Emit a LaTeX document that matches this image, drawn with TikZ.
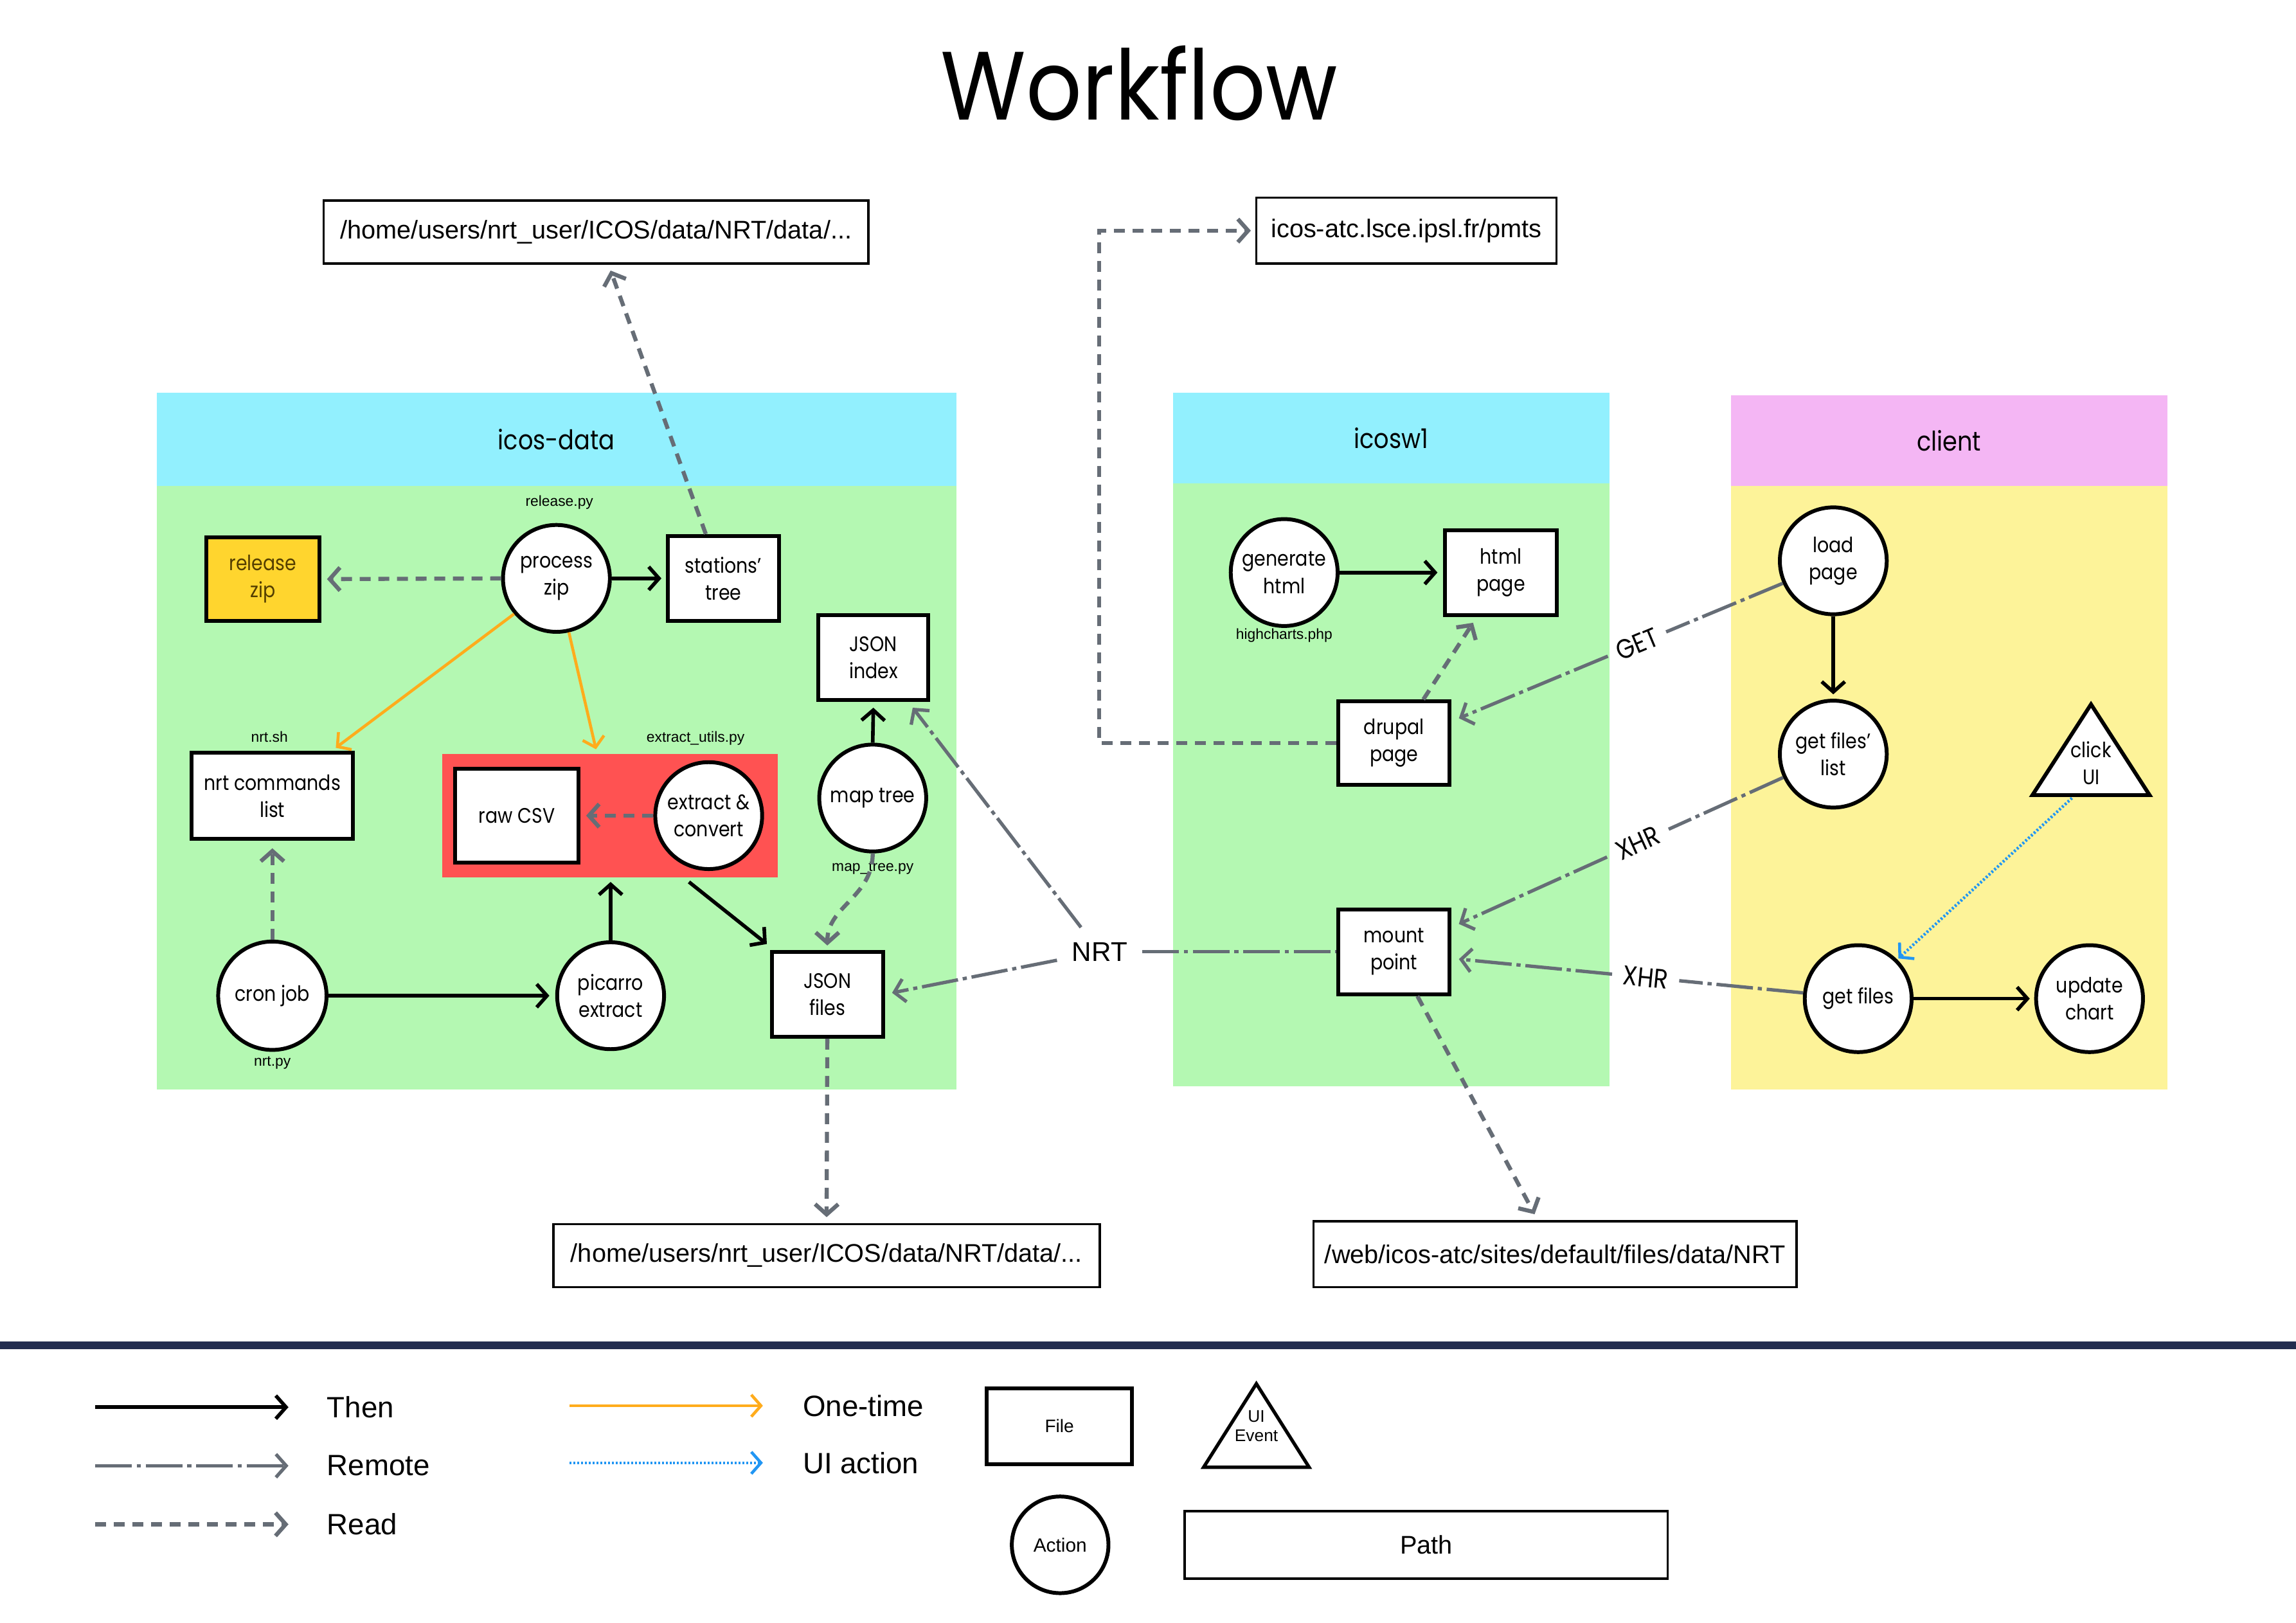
\documentclass[tikz,border=0pt]{standalone}
\usepackage{fontspec}
\usetikzlibrary{arrows.meta,calc}
\newfontfamily\nodefont[FakeStretch=0.87]{Poppins}
\newfontfamily\titlefont[FakeStretch=0.9]{Poppins}
\newfontfamily\helv{Liberation Sans}
\definecolor{hdrcyan}{RGB}{146,240,254}
\definecolor{bodygreen}{RGB}{180,248,178}
\definecolor{hdrpink}{RGB}{244,182,244}
\definecolor{bodyyellow}{RGB}{253,243,153}
\definecolor{redzone}{RGB}{255,82,82}
\definecolor{gold}{RGB}{255,213,46}
\definecolor{arrowgray}{RGB}{102,109,118}
\definecolor{orangeline}{RGB}{255,172,28}
\definecolor{blueline}{RGB}{33,150,243}
\definecolor{navybar}{RGB}{35,45,80}
\definecolor{zipbrown}{RGB}{84,62,0}
\def\pu{0.22781mm}
\begin{document}
\begin{tikzpicture}[x=\pu,y=-\pu,
  nodetext/.style={font=\nodefont\fontsize{9.3}{12}\selectfont, align=center, text=black},
  filebox/.style={nodetext, draw, line width=1.7pt, fill=white, minimum width=76*\pu, minimum height=58*\pu, inner sep=0pt},
  action/.style={nodetext, draw, circle, line width=1.7pt, fill=white, minimum size=73*\pu, inner sep=0pt},
  pathbox/.style={draw, line width=1pt, fill=white, font=\helv\fontsize{11.3}{13}\selectfont, inner sep=0pt},
  small/.style={font=\helv\fontsize{6.5}{8}\selectfont, inner sep=0pt},
  hdr/.style={font=\nodefont\fontsize{12}{14}\selectfont},
  lbl/.style={font=\nodefont\fontsize{12}{14}\selectfont, inner sep=0pt},
  legtext/.style={font=\helv\fontsize{13}{15}\selectfont, anchor=west, inner sep=0pt},
  tip/.style={-{Straight Barb[length=1.6mm,width=3.6mm]}},
  then/.style={line width=1.6pt, black, tip},
  read/.style={line width=1.8pt, arrowgray, dash pattern=on 1.7mm off 1.2mm, tip},
  remote/.style={line width=1.5pt, arrowgray, dash pattern=on 5.7mm off 0.75mm on 0.65mm off 0.75mm},
  remotearrow/.style={remote, tip},
  onetime/.style={line width=1.3pt, orangeline, -{Straight Barb[length=1.5mm,width=3.4mm]}},
  uiaction/.style={line width=1.3pt, blueline, dash pattern=on 0.85pt off 0.85pt, -{Straight Barb[length=1.5mm,width=3.4mm]}},
]
\useasboundingbox (0,0) rectangle (1568,1108);
\fill[white] (0,0) rectangle (1568,1108);

% title
\node[font=\titlefont\fontsize{43}{48}\selectfont] (title) at (778,57) {Workflow};

% path boxes
\node[pathbox, minimum width=372*\pu, minimum height=43*\pu] (p1) at (407,158.5) {/home/users/nrt\_user/ICOS/data/NRT/data/...};
\node[pathbox, minimum width=205*\pu, minimum height=45*\pu] (p2) at (960.5,157.5) {icos-atc.lsce.ipsl.fr/pmts};
\node[pathbox, minimum width=373*\pu, minimum height=43*\pu] (p3) at (564.5,857.5) {/home/users/nrt\_user/ICOS/data/NRT/data/...};
\node[pathbox, minimum width=330*\pu, minimum height=45*\pu] (p4) at (1062,856.5) {/web/icos-atc/sites/default/files/data/NRT};

% regions
\fill[hdrcyan] (107,268) rectangle (653,332);
\fill[bodygreen] (107,332) rectangle (653,744);
\node[hdr] (hicosdata) at (380,300) {icos-data};
\fill[hdrcyan] (801,268) rectangle (1099,330);
\fill[bodygreen] (801,330) rectangle (1099,742);
\node[hdr] (hicosw) at (950,299) {icosw1};
\fill[hdrpink] (1182,270) rectangle (1480,332);
\fill[bodyyellow] (1182,332) rectangle (1480,744);
\node[hdr] (hclient) at (1331,301) {client};

% icos-data nodes
\node[fill=redzone, minimum width=229*\pu, minimum height=84*\pu, inner sep=0pt] (red) at (416.5,557) {};
\node[filebox, fill=gold, text=zipbrown, minimum width=77*\pu, minimum height=57*\pu] (rz) at (179.5,395.5) {release\\zip};
\node[action] (pz) at (380,395) {process\\zip};
\node[small] (lrel) at (382,343) {release.py};
\node[filebox] (st) at (494,395) {stations’\\tree};
\node[filebox, minimum width=75*\pu] (ji) at (596.5,449) {JSON\\index};
\node[filebox, minimum width=110*\pu, minimum height=59*\pu] (nrt) at (186,543.5) {nrt commands\\list};
\node[small] (lnrtsh) at (184,503) {nrt.sh};
\node[small] (lext) at (475,504) {extract\_utils.py};
\node[filebox, minimum width=84*\pu, minimum height=64*\pu] (raw) at (353,557) {raw CSV};
\node[action] (ec) at (484,557) {extract \&\\convert};
\node[action] (mt) at (596,545) {map tree};
\node[small] (lmap) at (596,593) {map\_tree.py};
\node[action, minimum size=74*\pu] (cj) at (186,680) {cron job};
\node[small] (lnrtpy) at (186,726) {nrt.py};
\node[action] (pe) at (417,680) {picarro\\extract};
\node[filebox] (jf) at (565,679) {JSON\\files};

% icosw1 nodes
\node[action] (gh) at (877,391) {generate\\html};
\node[small] (lhc) at (877,434) {highcharts.php};
\node[filebox] (hp) at (1025,391) {html\\page};
\node[filebox, minimum height=57*\pu] (dp) at (952,507.5) {drupal\\page};
\node[filebox] (mp) at (952,650) {mount\\point};

% client nodes
\node[action] (lp) at (1252,383) {load\\page};
\node[action] (gfl) at (1252,515) {get files’\\list};
\draw[line width=1.7pt, fill=white, line join=miter] (1428,481) -- (1468,543) -- (1388,543) -- cycle;
\node[nodetext] (cui) at (1428,521) {click\\UI};
\coordinate (cuibase) at (1415,545);
\node[action] (gf) at (1269,682) {get files};
\node[action] (uc) at (1427,682) {update\\chart};

\node[font=\helv\fontsize{12}{14}\selectfont, inner sep=10*\pu] (nrtl) at (751,650) {NRT};

% connectors icos-data
\draw[read, shorten >=4*\pu] (pz.west) -- (rz.east);
\draw[then, shorten >=3*\pu] (pz.east) -- (st.west);
\draw[onetime] (pz.220) -- ([xshift=-13*\pu, yshift=2*\pu]nrt.north east);
\draw[onetime] (pz.283) -- ([xshift=-9.5*\pu, yshift=3*\pu]red.north);
\draw[read] ([xshift=-12*\pu]st.north) -- ([xshift=10*\pu, yshift=-4*\pu]p1.south);
\draw[read, shorten >=4*\pu] (ec.west) -- (raw.east);
\draw[then, shorten >=4*\pu] (mt.north) -- (ji.south);
\draw[read, shorten >=3*\pu] (mt.south) .. controls +(0,30) and +(0,-30) .. (jf.north);
\draw[then] ([xshift=54*\pu, yshift=-3*\pu]red.south) -- ([xshift=-2*\pu, yshift=4*\pu]jf.north west);
\draw[then, shorten >=3*\pu] (pe.north) -- (pe.north |- red.south);
\draw[then, shorten >=4*\pu] (cj.east) -- (pe.west);
\draw[read, shorten >=5*\pu] (cj.north) -- (nrt.south);
\draw[read, shorten >=4*\pu] (jf.south) -- (p3.north);

% NRT
\draw[remotearrow, shorten >=5*\pu] (nrtl) -- (jf.east);
\draw[remotearrow] (nrtl) -- ([xshift=-12*\pu, yshift=-4*\pu]ji.south east);
\draw[remote] (nrtl) -- (mp.west);

% icosw1 connectors
\draw[then, shorten >=4*\pu] (gh.east) -- (hp.west);
\draw[read] ([xshift=20*\pu]dp.north) -- ([xshift=-19*\pu, yshift=-4*\pu]hp.south);
\draw[read, shorten >=3*\pu] (dp.west) -- ++(-162,0) |- (p2.west);
\draw[read] ([xshift=16*\pu]mp.south) -- ([xshift=-14*\pu, yshift=4*\pu]p4.north);

% GET
\coordinate (g1) at (lp.204);
\coordinate (g2) at ([xshift=5*\pu, yshift=17*\pu]dp.east);
\draw[remote] (g1) -- ($(g1)!0.36!(g2)$);
\draw[remotearrow] ($(g1)!0.54!(g2)$) -- (g2);
\path (g1) -- (g2) node[pos=0.45, sloped, lbl] (lget) {GET};
% XHR 1
\coordinate (x1) at (gfl.205);
\coordinate (x2) at ([xshift=5*\pu, yshift=19*\pu]mp.east);
\draw[remote] (x1) -- ($(x1)!0.353!(x2)$);
\draw[remotearrow] ($(x1)!0.543!(x2)$) -- (x2);
\path (x1) -- (x2) node[pos=0.448, sloped, lbl] (lxhr1) {XHR};
% XHR 2
\coordinate (y1) at (gf.174);
\coordinate (y2) at ([xshift=5*\pu, yshift=-5*\pu]mp.east);
\draw[remote] (y1) -- ($(y1)!0.36!(y2)$);
\draw[remotearrow] ($(y1)!0.555!(y2)$) -- (y2);
\path (y1) -- (y2) node[pos=0.457, sloped, lbl] (lxhr2) {XHR};

% client connectors
\draw[then, shorten >=3*\pu] (lp.south) -- (gfl.north);
\draw[uiaction, shorten >=1*\pu] (cuibase) -- (gf.45);
\draw[then, shorten >=3*\pu] (gf.east) -- (uc.west);

% legend
\fill[navybar] (0,916) rectangle (1568,921.5);
\coordinate (a1) at (65,961); \coordinate (a2) at (197,961);
\draw[then] (a1) -- (a2);
\node[legtext] (tthen) at (223,961) {Then};
\coordinate (b1) at (65,1001); \coordinate (b2) at (197,1001);
\draw[remotearrow] (b1) -- (b2);
\node[legtext] (tremote) at (223,1001) {Remote};
\coordinate (c1) at (65,1041); \coordinate (c2) at (197,1041);
\draw[read] (c1) -- (c2);
\node[legtext] (tread) at (223,1041) {Read};
\coordinate (d1) at (389,960); \coordinate (d2) at (521,960);
\draw[onetime] (d1) -- (d2);
\node[legtext] (tone) at (548,960) {One-time};
\coordinate (e1) at (389,999); \coordinate (e2) at (521,999);
\draw[uiaction] (e1) -- (e2);
\node[legtext] (tui) at (548,999) {UI action};

\node[filebox, minimum width=99*\pu, minimum height=52*\pu, font=\helv\fontsize{8}{9}\selectfont] (lfile) at (723.5,974) {File};
\draw[line width=1.5pt, line join=miter] (858,945) -- (894,1002) -- (822,1002) -- cycle;
\node[font=\helv\fontsize{7.5}{8.5}\selectfont, align=center, inner sep=0pt] (levent) at (858,974) {UI\\Event};
\node[action, minimum size=66*\pu, font=\helv\fontsize{8.5}{10}\selectfont] (laction) at (724,1055) {Action};
\node[pathbox, minimum width=330*\pu, minimum height=46*\pu] (lpath) at (974,1055) {Path};
\end{tikzpicture}
\end{document}
